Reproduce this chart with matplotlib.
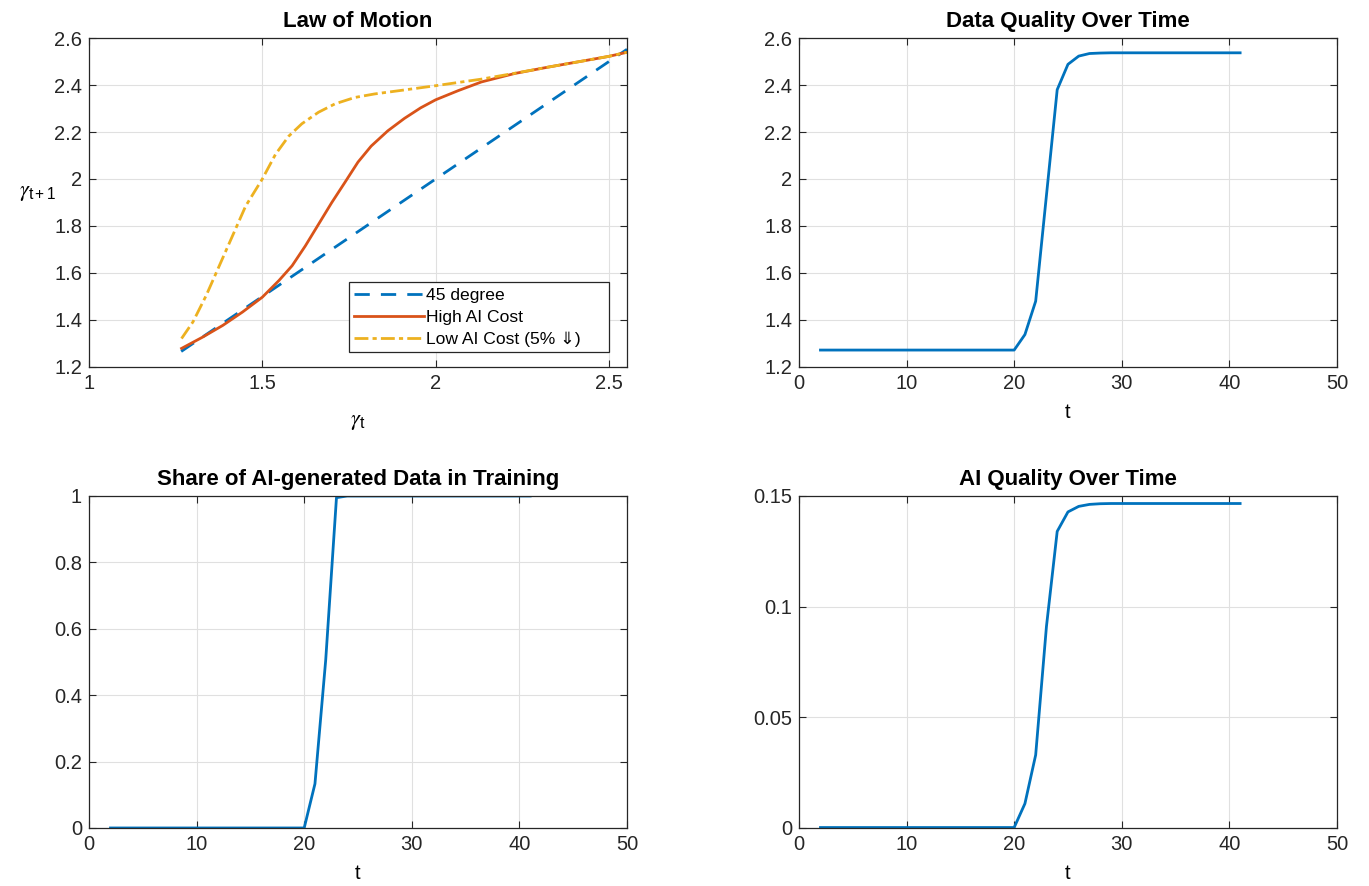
import numpy as np
import matplotlib.pyplot as plt
from matplotlib.ticker import FuncFormatter

# ------------------------------
# Law of motion: gamma_t -> gamma_{t+1}
# ------------------------------
diag = [1.266, 2.552]

gamma_high = [1.267, 1.329, 1.386, 1.443, 1.500, 1.548, 1.586, 1.624, 1.662, 1.700, 1.738, 1.776,
              1.814, 1.862, 1.910, 1.957, 2.000, 2.065, 2.132, 2.228, 2.324, 2.420, 2.500, 2.551]
high_cost = [1.279, 1.328, 1.377, 1.434, 1.497, 1.568, 1.631, 1.715, 1.807, 1.899, 1.985, 2.072,
             2.140, 2.205, 2.258, 2.303, 2.337, 2.376, 2.413, 2.449, 2.476, 2.501, 2.522, 2.539]

gamma_low = [1.267, 1.300, 1.338, 1.376, 1.414, 1.452, 1.500, 1.538, 1.576, 1.614, 1.662,
             1.710, 1.767, 1.824, 1.900, 2.000, 2.132, 2.228, 2.324, 2.420, 2.500, 2.551]
low_cost = [1.321, 1.392, 1.504, 1.631, 1.758, 1.885, 2.000, 2.105, 2.182, 2.235, 2.284,
            2.320, 2.347, 2.362, 2.377, 2.397, 2.425, 2.450, 2.476, 2.501, 2.522, 2.539]

# ------------------------------
# Simulated paths over time
# ------------------------------
t = list(range(2, 42))
data_quality = [1.272] * 19 + [1.338, 1.48, 1.93, 2.38, 2.488, 2.523, 2.534, 2.536] + [2.537] * 13
ai_share = [0.0] * 19 + [0.133, 0.506, 0.995] + [1.0] * 18
ai_quality = [0.0002] * 19 + [0.011, 0.033, 0.091, 0.134, 0.1428, 0.1453, 0.1462, 0.1465] + [0.1466] * 13

BLUE = "#0072BD"
ORANGE = "#D95319"
YELLOW = "#EDB120"

plt.rcParams["font.family"] = ["Liberation Sans", "DejaVu Sans"]
plt.rcParams["mathtext.fontset"] = "stix"

fig = plt.figure(figsize=(13.69, 8.86), dpi=100)
pos = [
    [0.065, 0.5858, 0.393, 0.3713],
    [0.5836, 0.5858, 0.393, 0.3713],
    [0.065, 0.0655, 0.393, 0.3747],
    [0.5836, 0.0655, 0.393, 0.3747],
]
axes = [fig.add_axes(p) for p in pos]


def g_fmt(v, _):
    return "%g" % round(v, 4)


def style(ax):
    ax.grid(True, color="#e0e0e0", linewidth=0.8)
    ax.set_axisbelow(True)
    ax.tick_params(direction="in", length=5, width=0.8, colors="#262626",
                   labelsize=14.5, top=True, right=True, pad=5)
    for s in ax.spines.values():
        s.set_color("#262626")
        s.set_linewidth(0.9)
    ax.xaxis.set_major_formatter(FuncFormatter(g_fmt))
    ax.yaxis.set_major_formatter(FuncFormatter(g_fmt))


# Law of motion
ax = axes[0]
style(ax)
ax.plot(diag, diag, color=BLUE, lw=2, dashes=(5.5, 4), label="45 degree")
ax.plot(gamma_high, high_cost, "-", color=ORANGE, lw=2, label="High AI Cost")
ax.plot(gamma_low, low_cost, color=YELLOW, lw=2, dashes=(5, 1.5, 1.5, 1.5),
        label="Low AI Cost (5% \u21d3)")
ax.set_xlim(1, 2.552)
ax.set_ylim(1.2, 2.6)
ax.set_xticks([1, 1.5, 2, 2.5])
ax.set_yticks(np.arange(1.2, 2.61, 0.2))
ax.set_title("Law of Motion", fontsize=16, fontweight="bold", pad=8)
ax.set_xlabel(r"$\gamma_{\mathregular{t}}$", fontsize=16, labelpad=13)
ax.set_ylabel(r"$\gamma_{\mathregular{t+1}}$", fontsize=16, rotation=0, va="center")
ax.yaxis.set_label_coords(-0.095, 0.53)
leg = ax.legend(loc="lower left", bbox_to_anchor=(0.483, 0.0456, 0.4835, 0.22),
                mode="expand", borderaxespad=0, fontsize=12.6, handlelength=4.0,
                fancybox=False, framealpha=1, edgecolor="#262626",
                borderpad=0.3, labelspacing=0.38, handletextpad=0.1)
leg.get_frame().set_linewidth(0.9)

# Time paths
panels = [
    (axes[1], data_quality, "Data Quality Over Time", (1.2, 2.6), np.arange(1.2, 2.61, 0.2)),
    (axes[2], ai_share, "Share of AI-generated Data in Training", (0, 1), np.arange(0, 1.01, 0.2)),
    (axes[3], ai_quality, "AI Quality Over Time", (0, 0.15), [0, 0.05, 0.1, 0.15]),
]
for ax, series, title, ylim, yticks in panels:
    style(ax)
    ax.plot(t, series, color=BLUE, lw=2)
    ax.set_xlim(0, 50)
    ax.set_xticks(range(0, 51, 10))
    ax.set_ylim(*ylim)
    ax.set_yticks(yticks)
    ax.set_title(title, fontsize=16, fontweight="bold", pad=8)
    ax.set_xlabel("t", fontsize=14.5, labelpad=7)

fig.savefig("out.png", dpi=100)
